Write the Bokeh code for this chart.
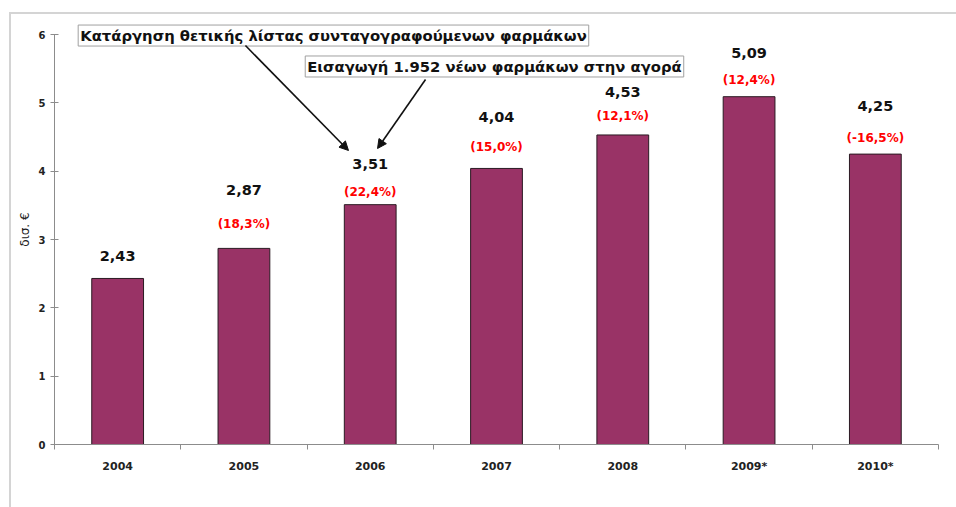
from bokeh.plotting import figure
from bokeh.layouts import column
from bokeh.models import (Range1d, FixedTicker, Label, Arrow, NormalHead,
                          ColumnDataSource)
from bokeh.core.properties import value
from bokeh.embed import file_html
from bokeh.resources import INLINE

# Pharmaceutical spending per year (billion euro) and year-on-year change (%)
years = ["2004", "2005", "2006", "2007", "2008", "2009*", "2010*"]
spend = [2.43, 2.87, 3.51, 4.04, 4.53, 5.09, 4.25]
growth = [None, 18.3, 22.4, 15.0, 12.1, 12.4, -16.5]
y_ticks = [0, 1, 2, 3, 4, 5, 6]

note_delist = "Κατάργηση θετικής λίστας συνταγογραφούμενων φαρμάκων"
note_new = "Εισαγωγή 1.952 νέων φαρμάκων στην αγορά"

# label placement (pixels above the bar top)
value_lift = [22, 58, 41, 51, 43, 44, 48]
growth_lift = [0, 24, 13, 21, 19, 17, 16]

FONT = "DejaVu Sans"
BAR = "#993366"


def comma(v, fmt):
    return format(v, fmt).replace(".", ",")


xs = list(range(1, len(years) + 1))
src = ColumnDataSource(dict(
    x=xs,
    value=spend,
    value_txt=[comma(v, ".2f") for v in spend],
    growth_txt=["" if g is None else "(" + comma(g, ".1f") + "%)" for g in growth],
    value_off=[-v for v in value_lift],
    growth_off=[-v for v in growth_lift],
))

p = figure(width=945, height=493, output_backend="svg", toolbar_location=None,
           x_range=Range1d(0.5, len(years) + 0.5), y_range=Range1d(0, 6.293),
           min_border_left=43, min_border_right=18, min_border_top=0,
           min_border_bottom=63, tools="")
p.outline_line_color = None
p.xgrid.grid_line_color = None
p.ygrid.grid_line_color = None
p.background_fill_color = "white"
p.border_fill_color = "white"

p.vbar(x="x", top="value", width=0.41, source=src, fill_color=BAR,
       line_color="#2a1a22", line_width=1)

p.text(x="x", y="value", text="value_txt", y_offset="value_off", source=src,
       text_font=value(FONT), text_font_style="bold", text_font_size="14.5px",
       text_align="center", text_baseline="middle", text_color="#111111")
p.text(x="x", y="value", text="growth_txt", y_offset="growth_off", source=src,
       text_font=value(FONT), text_font_style="bold", text_font_size="12px",
       text_align="center", text_baseline="middle", text_color="#ff0000")

# axes
xa = p.xaxis[0]
xa.ticker = FixedTicker(ticks=xs, minor_ticks=[x + 0.5 for x in range(len(years) + 1)])
xa.major_label_overrides = {x: y for x, y in zip(xs, years)}
xa.major_tick_out = 0
xa.major_tick_in = 0
xa.minor_tick_out = 5
xa.minor_tick_in = 0
xa.minor_tick_line_color = "#8c8c8c"
xa.axis_line_color = "#8c8c8c"
xa.major_label_standoff = 10
xa.major_label_text_font = FONT
xa.major_label_text_font_style = "bold"
xa.major_label_text_font_size = "11px"
xa.major_label_text_color = "#222222"

ya = p.yaxis[0]
ya.ticker = FixedTicker(ticks=y_ticks)
ya.bounds = (0, 6)
ya.axis_line_color = "#8c8c8c"
ya.major_tick_line_color = "#8c8c8c"
ya.major_tick_in = 4
ya.major_tick_out = 4
ya.minor_tick_line_color = None
ya.major_label_standoff = 5
ya.major_label_text_font = FONT
ya.major_label_text_font_style = "bold"
ya.major_label_text_font_size = "10px"
ya.major_label_text_color = "#222222"
ya.axis_label = "δισ. €"
ya.axis_label_text_font = FONT
ya.axis_label_text_font_style = "normal"
ya.axis_label_text_font_size = "12px"
ya.axis_label_text_color = "#222222"
ya.axis_label_standoff = 4

# call-out notes pointing at 2006
for txt, cx, cy in [(note_delist, 2.709, 5.985), (note_new, 3.984, 5.532)]:
    p.add_layout(Label(x=cx, y=cy, text=txt, text_font=FONT, text_font_style="bold",
                       text_font_size="14.8px", text_align="center",
                       text_baseline="middle", text_color="#111111",
                       background_fill_color="white", border_line_color="#a0a0a0",
                       border_line_width=1, padding=2))

for xs0, ys0, xe, ye in [(2.012, 5.839, 2.828, 4.303), (3.438, 5.342, 3.058, 4.332)]:
    p.add_layout(Arrow(x_start=xs0, y_start=ys0, x_end=xe, y_end=ye,
                       line_color="#111111", line_width=1.6,
                       end=NormalHead(size=9, fill_color="#111111",
                                      line_color="#111111")))

# outer chart border: only its top and left edges fall inside the page
page = column(p, styles={"margin-left": "9px", "margin-top": "12px",
                         "border-left": "2px solid #d4d4d4",
                         "border-top": "2px solid #d4d4d4"})

open("out.html", "w").write(file_html(page, INLINE))
